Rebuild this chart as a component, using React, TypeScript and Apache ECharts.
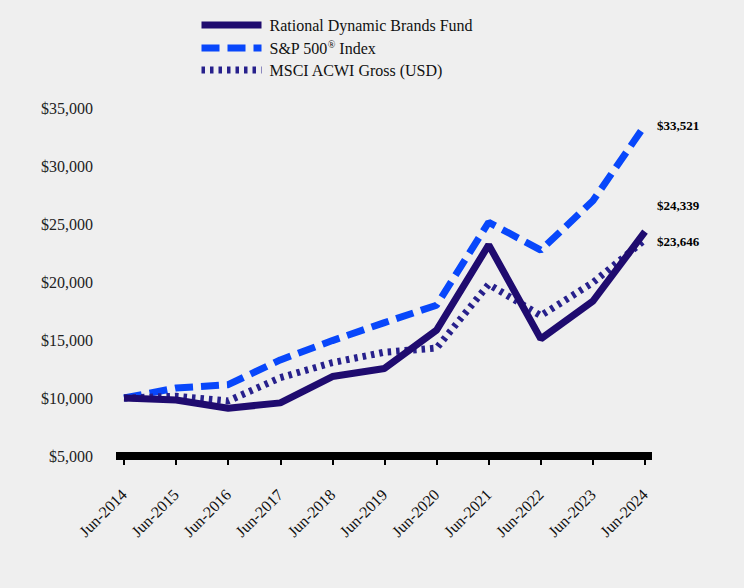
import React, { useEffect, useRef } from "react";
import * as echarts from "echarts";

const categories = ["Jun-2014", "Jun-2015", "Jun-2016", "Jun-2017", "Jun-2018", "Jun-2019", "Jun-2020", "Jun-2021", "Jun-2022", "Jun-2023", "Jun-2024"];
const fundValues = [10000, 9830, 9120, 9580, 11850, 12550, 15850, 23200, 15100, 18350, 24339];
const spValues = [10000, 10860, 11150, 13280, 14950, 16500, 18000, 25150, 22750, 27000, 33521];
const msciValues = [10000, 10150, 9750, 11750, 13050, 13950, 14300, 19800, 17100, 19950, 23646];
const yTicks = { min: 5000, max: 35000, interval: 5000 };

const FONT = "'Times New Roman', 'Liberation Serif', serif";
const fmt = (v: number) => "$" + v.toLocaleString("en-US");

export default function App() {
  const ref = useRef<HTMLDivElement>(null);
  useEffect(() => {
    if (!ref.current) return;
    const chart = echarts.init(ref.current, undefined, { renderer: "svg" });
    const endLabel = (offset: number[]) => ({
      show: true,
      formatter: (p: any) => fmt(p.value),
      fontFamily: FONT,
      fontWeight: "bold",
      fontSize: 13,
      color: "#000",
      distance: 12,
      offset,
    });
    chart.setOption({
      animation: false,
      backgroundColor: "#efefef",
      textStyle: { fontFamily: FONT },
      legend: {
        orient: "vertical",
        left: 193,
        top: 12,
        itemWidth: 60,
        itemHeight: 14,
        itemGap: 6,
        itemStyle: { opacity: 0 },
        lineStyle: { width: 7 },
        textStyle: {
          fontFamily: FONT,
          fontSize: 16,
          color: "#111",
          padding: [0, 0, 0, 3],
          rich: { sup: { fontSize: 10, verticalAlign: "top", padding: [0, 0, 8, 0], fontFamily: FONT, color: "#111" } },
        },
        formatter: (name: string) => (name === "S&P 500® Index" ? "S&P 500{sup|®} Index" : name),
        data: ["Rational Dynamic Brands Fund", "S&P 500® Index", "MSCI ACWI Gross (USD)"],
      },
      grid: { left: 124, right: 99, top: 108, bottom: 132 },
      xAxis: {
        type: "category",
        data: categories,
        boundaryGap: false,
        axisLine: { show: false },
        axisTick: { show: true, alignWithLabel: true, length: 9, lineStyle: { color: "#000", width: 2 } },
        axisLabel: { rotate: 45, fontFamily: FONT, fontSize: 16, color: "#111", margin: 36, interval: 0 },
        splitLine: { show: false },
      },
      yAxis: {
        type: "value",
        min: yTicks.min,
        max: yTicks.max,
        interval: yTicks.interval,
        axisLine: { show: false },
        axisTick: { show: false },
        splitLine: { show: false },
        axisLabel: { formatter: (v: number) => fmt(v), fontFamily: FONT, fontSize: 16, color: "#222", margin: 31 },
      },
      graphic: [
        { type: "rect", left: 116, top: 452, shape: { width: 536, height: 8 }, style: { fill: "#000" }, z: 10 },
      ],
      series: [
        {
          name: "S&P 500® Index",
          type: "line",
          data: spValues,
          symbol: "none",
          lineStyle: { color: "#0847fb", width: 7, type: [18, 8] },
          itemStyle: { color: "#0847fb" },
          endLabel: endLabel([0, 0]),
          z: 2,
        },
        {
          name: "MSCI ACWI Gross (USD)",
          type: "line",
          data: msciValues,
          symbol: "none",
          lineStyle: { color: "#27208c", width: 7, type: [3.5, 5] },
          itemStyle: { color: "#27208c" },
          endLabel: endLabel([0, 2]),
          z: 3,
        },
        {
          name: "Rational Dynamic Brands Fund",
          type: "line",
          data: fundValues,
          symbol: "none",
          lineStyle: { color: "#1f0b6f", width: 7, type: "solid" },
          itemStyle: { color: "#1f0b6f" },
          endLabel: endLabel([0, -26]),
          z: 4,
        },
      ],
    });
    return () => chart.dispose();
  }, []);
  return (
    <div style={{ position: "absolute", left: 0, top: 0, width: 744, height: 588, background: "#efefef" }}>
      <div ref={ref} style={{ width: 744, height: 588 }} />
    </div>
  );
}
